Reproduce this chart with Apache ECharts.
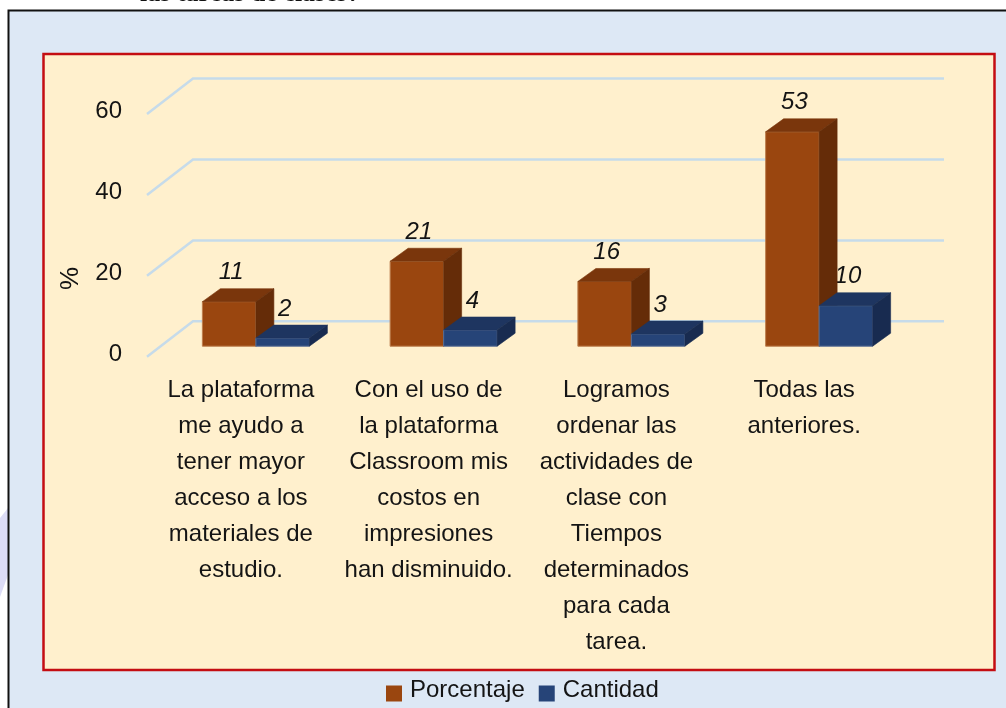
<!DOCTYPE html>
<html><head><meta charset="utf-8">
<style>html,body{margin:0;padding:0;background:#fff}#c{width:1006px;height:708px}</style>
<script src="https://cdn.jsdelivr.net/npm/echarts@6/dist/echarts.min.js"></script>
</head><body><div id="c"></div>
<script>
const categories = [
  'La plataforma\nme ayudo a\ntener mayor\nacceso a los\nmateriales de\nestudio.',
  'Con el uso de\nla plataforma\nClassroom mis\ncostos en\nimpresiones\nhan disminuido.',
  'Logramos\nordenar las\nactividades de\nclase con\nTiempos\ndeterminados\npara cada\ntarea.',
  'Todas las\nanteriores.'
];
const porcentaje = [11, 21, 16, 53];
const cantidad = [2, 4, 3, 10];
const yTicks = [0, 20, 40, 60];
const captionText = 'las tareas de clases?';

const font = '"Liberation Sans", Arial, sans-serif';
const textColor = '#141414';
const G = {left:147, right:108, top:114, bottom:351.3};
const DEPTH = {wallX:46, wallY:-35.4, floorX:15, floorY:-10.5, barX:18, barY:-13};
const poly = (points, fill, z2) => ({type:'polygon', z2, shape:{points}, style:{fill, stroke:fill, lineWidth:0.6}});

function barRenderer(side, pal, barZ, labelZ) {
  return function (params, api) {
    const v = api.value(1);
    const base = api.coord([api.value(0), 0]);
    const top = api.coord([api.value(0), v]);
    const w = 53.5;
    const cx = base[0] + DEPTH.floorX;
    const x0 = side < 0 ? cx - w : cx;
    const x1 = x0 + w;
    const yb = base[1] + DEPTH.floorY;
    const yt = top[1] + DEPTH.floorY;
    const dx = DEPTH.barX, dy = DEPTH.barY;
    return {type:'group', children:[
      {type:'rect', z2:barZ, shape:{x:x0, y:yt, width:w, height:yb-yt},
        style:{fill:pal[0], stroke:pal[3], lineWidth:1}},
      poly([[x0,yt],[x0+dx,yt+dy],[x1+dx,yt+dy],[x1,yt]], pal[1], barZ),
      poly([[x1,yt],[x1+dx,yt+dy],[x1+dx,yb+dy],[x1,yb]], pal[2], barZ),
      {type:'text', z2:labelZ, style:{x:(x0+x1)/2+2, y:yt-29, text:String(v), align:'center',
        verticalAlign:'middle', fontFamily:font, fontStyle:'italic', fontSize:24, fill:textColor}}
    ]};
  };
}

const chart = echarts.init(document.getElementById('c'), null, {renderer:'canvas'});
chart.setOption({
  animation:false,
  backgroundColor:'#ffffff',
  graphic:[
    {type:'polygon', z:-10, silent:true, shape:{points:[[0,518],[8,508],[8,575],[0,597]]}, style:{fill:'#dcdcf6'}},
    {type:'rect', z:-9, silent:true, shape:{x:8.5,y:10.5,width:1000,height:700},
      style:{fill:'#dde8f5', stroke:'#111111', lineWidth:2}},
    {type:'rect', z:-8, silent:true, shape:{x:43.5,y:54,width:951,height:616},
      style:{fill:'#fff0cd', stroke:'#c40d12', lineWidth:2.5}},
    {type:'text', z:5, silent:true, style:{x:250,y:-6,text:captionText,align:'center',verticalAlign:'middle',
      fontFamily:'"Liberation Serif", serif',fontWeight:'bold',fontSize:26,fill:'#111'}}
  ],
  grid:{left:G.left, right:G.right, top:G.top, bottom:G.bottom, containLabel:false},
  legend:{
    bottom:1, left:381, itemWidth:16, itemHeight:16, itemGap:14,
    icon:'rect', formatter:'{t|{name}}',
    textStyle:{fontFamily:font, fontSize:24, color:textColor,
      rich:{t:{fontFamily:font, fontSize:24, color:textColor, padding:[0,0,7,3]}}},
    data:['Porcentaje','Cantidad']
  },
  xAxis:{
    type:'category', data:categories,
    axisLine:{show:false}, axisTick:{show:false}, splitLine:{show:false},
    axisLabel:{interval:0, margin:16, fontFamily:font, fontSize:24, lineHeight:36, color:textColor, align:'center', verticalAlign:'top'}
  },
  yAxis:{
    type:'value', min:0, max:60, interval:20,
    name:'%', nameLocation:'middle', nameGap:63, nameRotate:90,
    nameTextStyle:{fontFamily:font, fontSize:26, color:textColor, padding:[0,86,0,0]},
    axisLine:{show:false}, axisTick:{show:false}, splitLine:{show:false},
    axisLabel:{margin:25, fontFamily:font, fontSize:24, color:textColor, verticalAlign:'bottom', lineHeight:5}
  },
  series:[
    {
      name:'grid', type:'custom', coordinateSystem:'cartesian2d', z:1, silent:true,
      data:yTicks.map(t=>[0,t]),
      encode:{x:0,y:1}, tooltip:{show:false},
      renderItem(params, api){
        const p = api.coord([0, api.value(1)]);
        const r = api.getWidth() - G.right;
        const y = p[1];
        return {type:'polyline', shape:{points:[[G.left,y],[G.left+DEPTH.wallX,y+DEPTH.wallY],[r+DEPTH.wallX,y+DEPTH.wallY]]},
          style:{stroke:'#c6dbea', lineWidth:2.5, fill:null}};
      }
    },
    {
      name:'Porcentaje', type:'custom', coordinateSystem:'cartesian2d', z:2,
      itemStyle:{color:'#9a460f'},
      data:porcentaje.map((v,i)=>[i,v]), encode:{x:0,y:1},
      renderItem:barRenderer(-1, ['#9a460f','#7a360c','#652c08','#bd7f4e'], 3, 5)
    },
    {
      name:'Cantidad', type:'custom', coordinateSystem:'cartesian2d', z:2,
      itemStyle:{color:'#264478'},
      data:cantidad.map((v,i)=>[i,v]), encode:{x:0,y:1},
      renderItem:barRenderer(1, ['#264478','#1e3560','#182b50','#5a6f95'], 4, 1)
    }
  ]
});
</script></body></html>
